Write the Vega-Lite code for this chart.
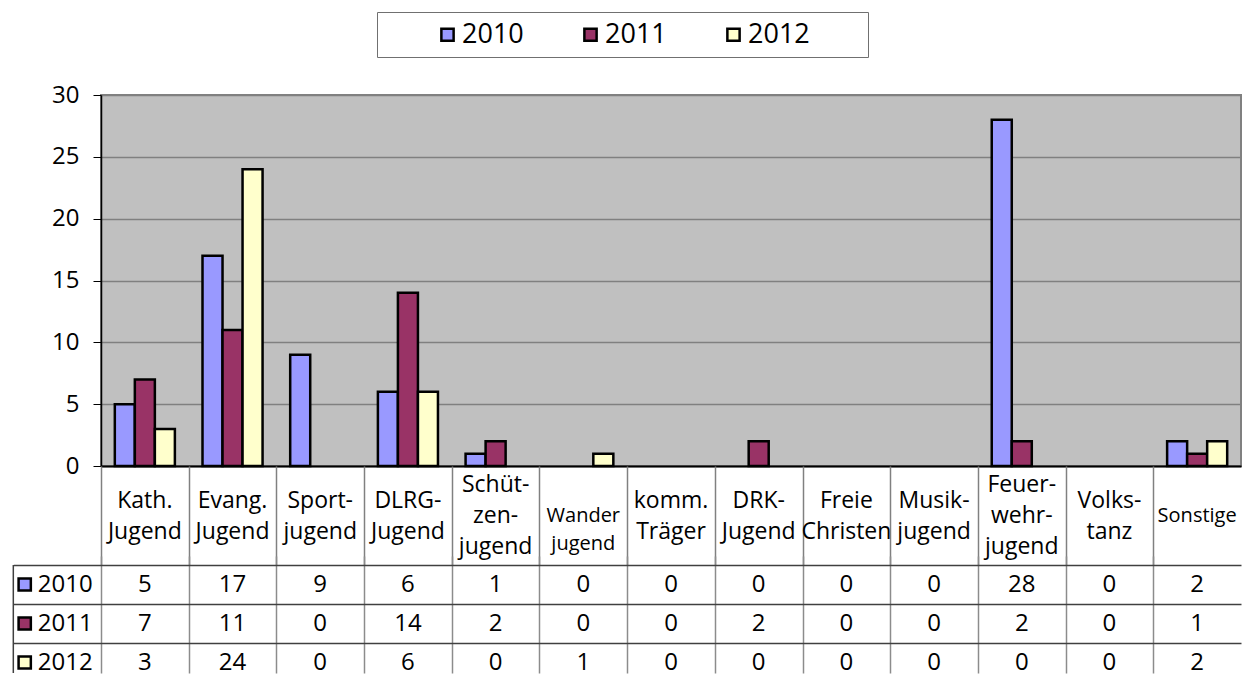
{
  "$schema": "https://vega.github.io/schema/vega-lite/v6.json",
  "padding": {"left": 12, "top": 11, "right": 5, "bottom": 0},
  "spacing": 0,
  "bounds": "flush",
  "config": {
    "font": "Open Sans",
    "view": {"stroke": null},
    "axis": {"labelFont": "Open Sans", "labelColor": "#000"},
    "legend": {"labelFont": "Open Sans"}
  },
  "datasets": {
    "counts": [
      {"cat": "Kath.|Jugend", "year": "2010", "value": 5},
      {"cat": "Kath.|Jugend", "year": "2011", "value": 7},
      {"cat": "Kath.|Jugend", "year": "2012", "value": 3},
      {"cat": "Evang.|Jugend", "year": "2010", "value": 17},
      {"cat": "Evang.|Jugend", "year": "2011", "value": 11},
      {"cat": "Evang.|Jugend", "year": "2012", "value": 24},
      {"cat": "Sport-|jugend", "year": "2010", "value": 9},
      {"cat": "Sport-|jugend", "year": "2011", "value": 0},
      {"cat": "Sport-|jugend", "year": "2012", "value": 0},
      {"cat": "DLRG-|Jugend", "year": "2010", "value": 6},
      {"cat": "DLRG-|Jugend", "year": "2011", "value": 14},
      {"cat": "DLRG-|Jugend", "year": "2012", "value": 6},
      {"cat": "Schüt-|zen-|jugend", "year": "2010", "value": 1},
      {"cat": "Schüt-|zen-|jugend", "year": "2011", "value": 2},
      {"cat": "Schüt-|zen-|jugend", "year": "2012", "value": 0},
      {"cat": "Wander|jugend", "year": "2010", "value": 0},
      {"cat": "Wander|jugend", "year": "2011", "value": 0},
      {"cat": "Wander|jugend", "year": "2012", "value": 1},
      {"cat": "komm.|Träger", "year": "2010", "value": 0},
      {"cat": "komm.|Träger", "year": "2011", "value": 0},
      {"cat": "komm.|Träger", "year": "2012", "value": 0},
      {"cat": "DRK-|Jugend", "year": "2010", "value": 0},
      {"cat": "DRK-|Jugend", "year": "2011", "value": 2},
      {"cat": "DRK-|Jugend", "year": "2012", "value": 0},
      {"cat": "Freie|Christen", "year": "2010", "value": 0},
      {"cat": "Freie|Christen", "year": "2011", "value": 0},
      {"cat": "Freie|Christen", "year": "2012", "value": 0},
      {"cat": "Musik-|jugend", "year": "2010", "value": 0},
      {"cat": "Musik-|jugend", "year": "2011", "value": 0},
      {"cat": "Musik-|jugend", "year": "2012", "value": 0},
      {"cat": "Feuer-|wehr-|jugend", "year": "2010", "value": 28},
      {"cat": "Feuer-|wehr-|jugend", "year": "2011", "value": 2},
      {"cat": "Feuer-|wehr-|jugend", "year": "2012", "value": 0},
      {"cat": "Volks-|tanz", "year": "2010", "value": 0},
      {"cat": "Volks-|tanz", "year": "2011", "value": 0},
      {"cat": "Volks-|tanz", "year": "2012", "value": 0},
      {"cat": "Sonstige", "year": "2010", "value": 2},
      {"cat": "Sonstige", "year": "2011", "value": 1},
      {"cat": "Sonstige", "year": "2012", "value": 2}
    ],
    "cats": [
      {"cat": "Kath.|Jugend"}, {"cat": "Evang.|Jugend"}, {"cat": "Sport-|jugend"},
      {"cat": "DLRG-|Jugend"}, {"cat": "Schüt-|zen-|jugend"}, {"cat": "Wander|jugend"},
      {"cat": "komm.|Träger"}, {"cat": "DRK-|Jugend"}, {"cat": "Freie|Christen"},
      {"cat": "Musik-|jugend"}, {"cat": "Feuer-|wehr-|jugend"}, {"cat": "Volks-|tanz"},
      {"cat": "Sonstige"}
    ],
    "years": [
      {"year": "2010", "col": "rowhead"},
      {"year": "2011", "col": "rowhead"},
      {"year": "2012", "col": "rowhead"}
    ]
  },
  "vconcat": [
    {
      "width": 1140,
      "height": 371,
      "view": {"fill": "#C0C0C0", "stroke": "#808080", "strokeWidth": 2},
      "data": {"name": "counts"},
      "transform": [{"filter": "datum.value > 0"}],
      "mark": {"type": "bar", "stroke": "#000", "strokeWidth": 2.5},
      "encoding": {
        "x": {
          "field": "cat", "type": "nominal",
          "scale": {"domain": ["Kath.|Jugend", "Evang.|Jugend", "Sport-|jugend", "DLRG-|Jugend", "Schüt-|zen-|jugend", "Wander|jugend", "komm.|Träger", "DRK-|Jugend", "Freie|Christen", "Musik-|jugend", "Feuer-|wehr-|jugend", "Volks-|tanz", "Sonstige"], "paddingInner": 0, "paddingOuter": 0},
          "axis": {"labels": false, "ticks": false, "title": null, "domainColor": "#000", "domainWidth": 2, "grid": false}
        },
        "xOffset": {
          "field": "year", "type": "nominal",
          "scale": {"domain": ["2010", "2011", "2012"], "paddingInner": 0, "paddingOuter": 0.69}
        },
        "y": {
          "field": "value", "type": "quantitative",
          "scale": {"domain": [0, 30], "nice": false},
          "axis": {"values": [0, 5, 10, 15, 20, 25, 30], "title": null, "labelFontSize": 24, "labelColor": "#000", "tickColor": "#000", "tickSize": 8, "labelPadding": 14, "domainColor": "#000", "domainWidth": 1.5, "gridColor": "#808080", "gridWidth": 1.5}
        },
        "color": {
          "field": "year", "type": "nominal",
          "scale": {"domain": ["2010", "2011", "2012"], "range": ["#9999FF", "#993366", "#FFFFCC"]},
          "legend": {
            "orient": "none", "legendX": 276, "legendY": -83, "direction": "horizontal",
            "title": "\u00a0", "titleOrient": "left", "titlePadding": 48, "titleFontSize": 10,
            "symbolType": "square", "symbolSize": 150, "symbolStrokeColor": "#000", "symbolStrokeWidth": 2.5,
            "labelFontSize": 27, "labelColor": "#000", "labelOffset": 1,
            "labelExpr": "datum.label === '2012' ? datum.label + '\u00a0\u00a0\u00a0\u00a0\u00a0\u00a0\u00a0\u200b' : datum.label",
            "columnPadding": 53, "padding": 9, "strokeColor": "#707070"
          }
        }
      }
    },
    {
      "width": 1140,
      "height": 99,
      "data": {"name": "cats"},
      "encoding": {
        "x": {
          "field": "cat", "type": "nominal",
          "scale": {"domain": ["Kath.|Jugend", "Evang.|Jugend", "Sport-|jugend", "DLRG-|Jugend", "Schüt-|zen-|jugend", "Wander|jugend", "komm.|Träger", "DRK-|Jugend", "Freie|Christen", "Musik-|jugend", "Feuer-|wehr-|jugend", "Volks-|tanz", "Sonstige"], "paddingInner": 0, "paddingOuter": 0},
          "axis": {"grid": true, "tickBand": "extent", "values": ["Kath.|Jugend", "Evang.|Jugend", "Sport-|jugend", "DLRG-|Jugend", "Schüt-|zen-|jugend", "Wander|jugend", "komm.|Träger", "DRK-|Jugend", "Freie|Christen", "Musik-|jugend", "Feuer-|wehr-|jugend", "Volks-|tanz"], "gridColor": "#808080", "gridWidth": 1.5, "labels": false, "ticks": false, "domain": false, "title": null}
        },
        "text": {"field": "cat", "type": "nominal"}
      },
      "layer": [
        {
          "transform": [{"filter": "split(datum.cat, '|').length === 1 || datum.cat === 'Wander|jugend'"}],
          "mark": {"type": "text", "lineBreak": "|", "lineHeight": 28, "baseline": "middle", "align": "center", "color": "#000", "fontSize": 20, "dy": {"expr": "0"}}
        },
        {
          "transform": [{"filter": "split(datum.cat, '|').length === 2 && datum.cat !== 'Wander|jugend'"}],
          "mark": {"type": "text", "lineBreak": "|", "lineHeight": 31, "baseline": "middle", "align": "center", "color": "#000", "fontSize": 23, "dy": -15}
        },
        {
          "transform": [{"filter": "split(datum.cat, '|').length === 3"}],
          "mark": {"type": "text", "lineBreak": "|", "lineHeight": 31, "baseline": "middle", "align": "center", "color": "#000", "fontSize": 23, "dy": -31}
        }
      ]
    },
    {
      "width": 1140,
      "height": 108,
      "layer": [
        {
          "data": {"name": "counts"},
          "mark": {"type": "text", "fontSize": 24, "color": "#000", "baseline": "middle"},
          "encoding": {
            "x": {
              "field": "cat", "type": "nominal",
              "scale": {"domain": ["rowhead", "Kath.|Jugend", "Evang.|Jugend", "Sport-|jugend", "DLRG-|Jugend", "Schüt-|zen-|jugend", "Wander|jugend", "komm.|Träger", "DRK-|Jugend", "Freie|Christen", "Musik-|jugend", "Feuer-|wehr-|jugend", "Volks-|tanz", "Sonstige"], "range": [-87.69, 1140], "paddingInner": 0, "paddingOuter": 0},
              "axis": {"grid": true, "tickBand": "extent", "values": ["Kath.|Jugend", "Evang.|Jugend", "Sport-|jugend", "DLRG-|Jugend", "Schüt-|zen-|jugend", "Wander|jugend", "komm.|Träger", "DRK-|Jugend", "Freie|Christen", "Musik-|jugend", "Feuer-|wehr-|jugend", "Volks-|tanz"], "gridColor": "#8c8c8c", "gridWidth": 1.5, "labels": false, "ticks": false, "domain": false, "title": null}
            },
            "y": {
              "field": "year", "type": "nominal",
              "scale": {"domain": ["2010", "2011", "2012"], "range": [0, 117], "paddingInner": 0, "paddingOuter": 0},
              "axis": {"grid": true, "tickBand": "extent", "values": ["2010", "2011"], "gridColor": "#404040", "gridWidth": 1.5, "labels": false, "ticks": false, "domain": false, "title": null}
            },
            "text": {"field": "value", "type": "quantitative"}
          }
        },
        {
          "data": {"name": "years"},
          "transform": [{"filter": "datum.year === '2010'"}],
          "mark": {"type": "rule", "color": "#404040", "strokeWidth": 1.5},
          "encoding": {
            "x": {"field": "col", "type": "nominal", "bandPosition": 0}
          }
        },
        {
          "data": {"name": "years"},
          "mark": {"type": "point", "shape": "square", "filled": true, "size": 150, "stroke": "#000", "strokeWidth": 2.5, "opacity": 1},
          "encoding": {
            "x": {"field": "col", "type": "nominal", "bandPosition": 0.13},
            "y": {"field": "year", "type": "nominal"},
            "color": {"field": "year", "type": "nominal", "legend": null}
          }
        },
        {
          "data": {"name": "years"},
          "mark": {"type": "text", "align": "left", "baseline": "middle", "fontSize": 24, "color": "#000"},
          "encoding": {
            "x": {"field": "col", "type": "nominal", "bandPosition": 0.28},
            "y": {"field": "year", "type": "nominal"},
            "text": {"field": "year", "type": "nominal"}
          }
        }
      ]
    }
  ]
}
